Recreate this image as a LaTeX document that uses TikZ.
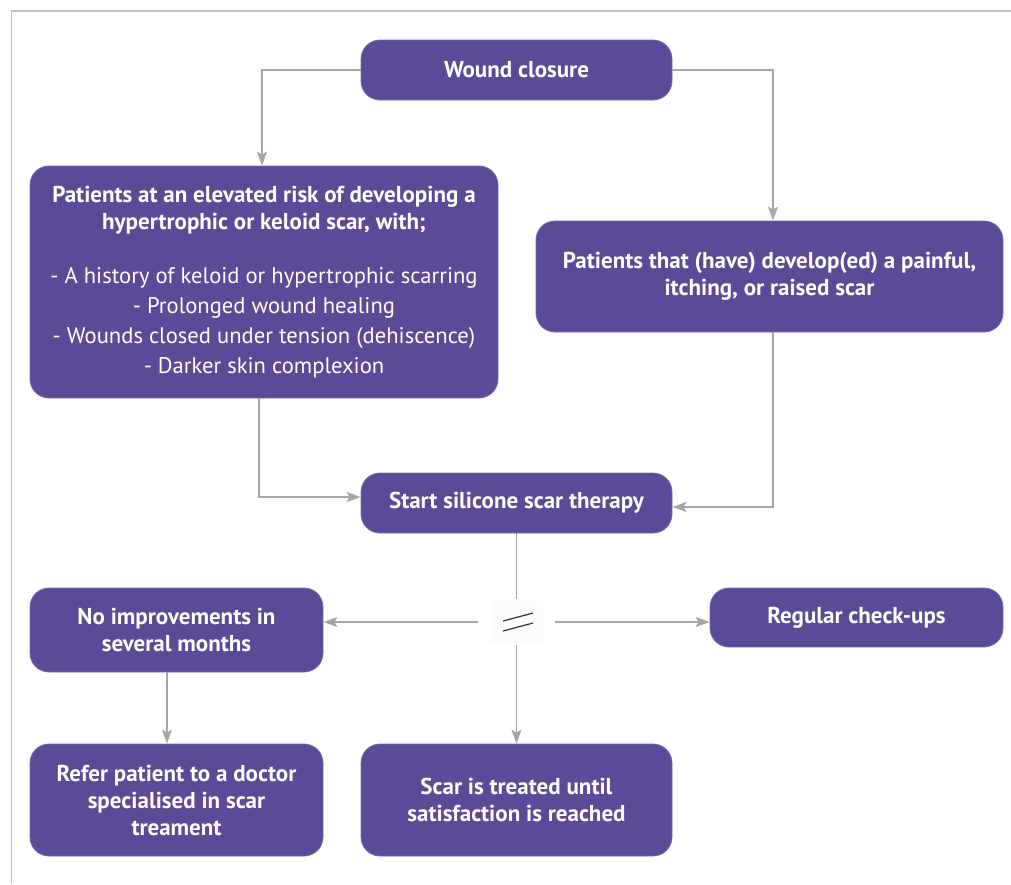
\documentclass[tikz,border=0pt]{standalone}
\usepackage{fontspec}
\setmainfont{PT Sans}
\usetikzlibrary{arrows.meta}
\definecolor{boxpurple}{RGB}{91,74,151}
\definecolor{boxedge}{RGB}{120,104,176}
\definecolor{linegray}{RGB}{166,166,166}
\definecolor{framegray}{RGB}{192,192,192}
\tikzset{
  pbox/.style={draw=boxedge, line width=0.8pt, fill=boxpurple, rounded corners=19pt, text=white,
    align=center, inner sep=0pt, font=\fontsize{23}{27}\selectfont\bfseries},
  conn/.style={draw=linegray, line width=1.5pt},
  arr/.style={conn, -{Stealth[length=14pt,width=10pt,inset=3pt]}},
}
\newcommand{\listfont}{\fontsize{22.6}{27}\selectfont\mdseries}
\begin{document}
\begin{tikzpicture}[x=1pt,y=-1pt]
\useasboundingbox (0,0) rectangle (1011,884);
% frame
\draw[framegray, line width=1.3pt] (11.5,884) -- (11.5,11) -- (1011,11);

\node[pbox, minimum width=311pt, minimum height=60pt] (wc) at (516.5,70) {Wound closure};
\node[pbox, minimum width=468pt, minimum height=232pt] (risk) at (264,282)
  {Patients at an elevated risk of developing a\\[0pt]
   hypertrophic or keloid scar, with;\\[27pt]
   \listfont - A history of keloid or hypertrophic scarring\\[3pt]
   \listfont - Prolonged wound healing\\[3pt]
   \listfont - Wounds closed under tension (dehiscence)\\[3pt]
   \listfont - Darker skin complexion};
\node[pbox, minimum width=467pt, minimum height=111pt] (pain) at (769.5,276.5)
  {Patients that (have) develop(ed) a painful,\\itching, or raised scar};
\node[pbox, minimum width=311pt, minimum height=60pt] (start) at (516.5,503) {Start silicone scar therapy};
\node[minimum width=77pt, minimum height=45pt, inner sep=0pt] (brk) at (516.5,622) {};
\fill[white!99!black] (490,601) rectangle (543,644);
\draw[black!80, line width=1.2pt] (503,621) -- (533,613) (503,631) -- (533,623);
\node[pbox, minimum width=293pt, minimum height=84pt] (noimp) at (176.5,630) {No improvements in\\several months};
\node[pbox, minimum width=293pt, minimum height=59pt] (reg) at (856.5,617.5) {Regular check-ups};
\node[pbox, minimum width=293pt, minimum height=112pt] (refer) at (176.5,800)
  {Refer patient to a doctor\\specialised in scar\\treament};
\node[pbox, minimum width=311pt, minimum height=112pt] (scar) at (516.5,800)
  {Scar is treated until\\satisfaction is reached};

% connectors
\coordinate (wcL) at (262,70);
\coordinate (wcR) at (773,70);
\draw[arr] (wc.west) -- (wcL) -- (wcL |- risk.north);
\draw[arr] (wc.east) -- (wcR) -- (wcR |- pain.north);
\coordinate (rk) at (259,497);
\draw[arr] (rk |- risk.south) -- (rk) -- (start.west |- rk);
\coordinate (pk) at (773,507);
\draw[arr] (pk |- pain.south) -- (pk) -- (start.east |- pk);
\draw[conn] (start.south) -- (brk.north);
\draw[arr] (brk.south) -- (scar.north);
\draw[arr] (brk.west) -- (noimp.east |- brk.west);
\draw[arr] (brk.east) -- (reg.west |- brk.east);
\coordinate (nk) at (167,0);
\draw[arr] (nk |- noimp.south) -- (nk |- refer.north);
\end{tikzpicture}
\end{document}
